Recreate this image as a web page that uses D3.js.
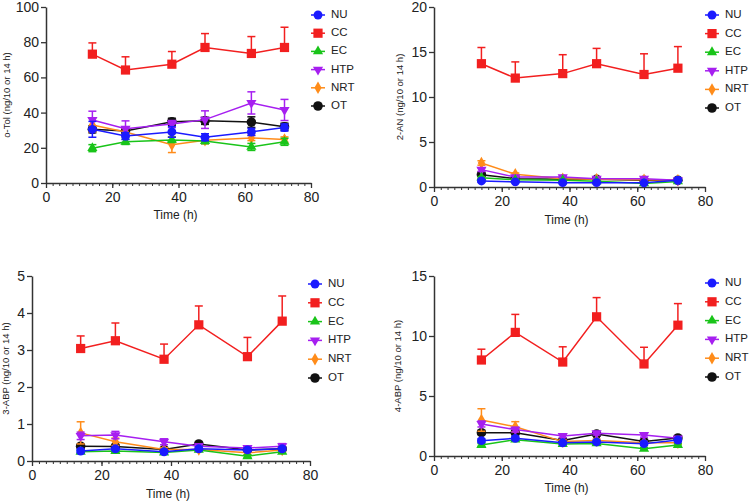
<!DOCTYPE html>
<html>
<head>
<meta charset="utf-8">
<script src="https://cdn.jsdelivr.net/npm/d3@7"></script>
<style>
  body { margin: 0; background: #fff; }
  svg text { font-family: "Liberation Sans", Arial, sans-serif; }
</style>
</head>
<body>
<svg id="main" width="750" height="502"></svg>
<script>

// sampling times (h)
var times  = [14, 24, 38, 48, 62, 72];
var groups = ["NU", "CC", "EC", "HTP", "NRT", "OT"];
var colors = ["#1a1aff", "#f21f1f", "#19c419", "#a61ff0", "#ff8c1a", "#111111"];

// o-Tol (rows follow groups)
var oTolMean = [
  [30.5, 26.7, 29.0, 26.0, 29.0, 31.5],
  [73.2, 64.2, 67.5, 77.0, 73.6, 77.0],
  [19.8, 23.4, 24.5, 23.8, 20.5, 23.4],
  [35.8, 30.8, 33.5, 36.0, 45.5, 41.5],
  [33.0, 29.0, 21.8, 24.3, 25.6, 24.7],
  [30.5, 29.5, 34.8, 35.3, 34.6, 32.0]
];
var oTolErr = [
  [4.5, 2.0, 3.0, 2.0, 2.0, 2.0],
  [6.4, 7.5, 7.2, 7.9, 9.6, 11.5],
  [2.0, 1.5, 1.5, 1.5, 2.0, 2.0],
  [5.0, 4.5, 2.0, 5.0, 6.3, 6.0],
  [4.0, 2.0, 4.5, 2.0, 1.5, 1.5],
  [2.0, 1.5, 2.0, 2.0, 3.0, 2.0]
];

// 2-AN
var anMean = [
  [0.67, 0.57, 0.48, 0.48, 0.46, 0.75],
  [13.7, 12.1, 12.6, 13.7, 12.5, 13.2],
  [1.04, 0.80, 0.75, 0.64, 0.40, 0.62],
  [1.93, 1.10, 1.10, 0.93, 0.93, 0.75],
  [2.67, 1.41, 0.93, 0.85, 0.80, 0.75],
  [1.37, 0.93, 0.85, 0.85, 0.75, 0.75]
];
var anErr = [
  [0.12, 0.10, 0.10, 0.10, 0.10, 0.12],
  [1.8, 1.8, 2.1, 1.7, 2.3, 2.4],
  [0.12, 0.10, 0.10, 0.10, 0.10, 0.10],
  [0.20, 0.15, 0.12, 0.10, 0.12, 0.10],
  [0.25, 0.15, 0.10, 0.10, 0.10, 0.10],
  [0.15, 0.10, 0.10, 0.10, 0.10, 0.10]
];

// 3-ABP
var abp3Mean = [
  [0.27, 0.33, 0.25, 0.33, 0.30, 0.33],
  [3.04, 3.25, 2.75, 3.68, 2.82, 3.78],
  [0.25, 0.27, 0.23, 0.30, 0.13, 0.25],
  [0.68, 0.70, 0.52, 0.40, 0.35, 0.40],
  [0.76, 0.52, 0.31, 0.31, 0.22, 0.30],
  [0.40, 0.39, 0.31, 0.46, 0.30, 0.33]
];
var abp3Err = [
  [0.05, 0.05, 0.05, 0.05, 0.05, 0.05],
  [0.34, 0.48, 0.41, 0.51, 0.52, 0.68],
  [0.04, 0.04, 0.04, 0.04, 0.04, 0.04],
  [0.10, 0.10, 0.08, 0.06, 0.06, 0.07],
  [0.30, 0.10, 0.05, 0.05, 0.05, 0.05],
  [0.05, 0.05, 0.05, 0.05, 0.05, 0.05]
];

// 4-ABP
var abp4Mean = [
  [1.28, 1.47, 1.10, 1.17, 1.03, 1.33],
  [8.0, 10.3, 7.83, 11.6, 7.67, 10.9],
  [0.92, 1.36, 1.00, 1.05, 0.60, 0.92],
  [2.67, 2.20, 1.67, 1.90, 1.75, 1.47],
  [3.00, 2.44, 1.20, 1.30, 1.10, 1.10],
  [1.94, 1.94, 1.30, 1.83, 1.20, 1.50]
];
var abp4Err = [
  [0.15, 0.15, 0.12, 0.12, 0.12, 0.15],
  [0.9, 1.5, 1.27, 1.6, 1.39, 1.8],
  [0.12, 0.12, 0.10, 0.10, 0.12, 0.10],
  [0.25, 0.20, 0.15, 0.15, 0.18, 0.12],
  [0.94, 0.42, 0.15, 0.12, 0.12, 0.12],
  [0.15, 0.15, 0.12, 0.15, 0.12, 0.12]
];

var panels = [
  { label: "o-Tol (ng/10 or 14 h)", mean: oTolMean, err: oTolErr, yMax: 100, yTicks: [0,20,40,60,80,100],
    x0: 46, x1: 311, y0: 183, y1: 7, xLab: 216, yLabX: 7, legX: 318, legY: 15, legDy: 18.2 },
  { label: "2-AN (ng/10 or 14 h)", mean: anMean, err: anErr, yMax: 20, yTicks: [0,5,10,15,20],
    x0: 434, x1: 705, y0: 187, y1: 7, xLab: 221, yLabX: 400, legX: 712, legY: 15, legDy: 18.6 },
  { label: "3-ABP (ng/10 or 14 h)", mean: abp3Mean, err: abp3Err, yMax: 5, yTicks: [0,1,2,3,4,5],
    x0: 32, x1: 310, y0: 461, y1: 276, xLab: 495, yLabX: 6, legX: 315, legY: 284, legDy: 18.8 },
  { label: "4-ABP (ng/10 or 14 h)", mean: abp4Mean, err: abp4Err, yMax: 15, yTicks: [0,5,10,15],
    x0: 434, x1: 705, y0: 456, y1: 276, xLab: 489, yLabX: 398, legX: 712, legY: 283, legDy: 18.8 }
];

var FONT = "Liberation Sans, Arial, sans-serif";

var svg = d3.select("#main");
svg.append("rect").attr("width", 750).attr("height", 502).attr("fill", "#fff");

var symbols = [d3.symbolCircle, d3.symbolSquare, d3.symbolTriangle, d3.symbolTriangle, d3.symbolDiamond, d3.symbolCircle];
var symSize = [62, 85, 45, 45, 45, 72];

function marker(sel, i) {
  sel.append("path")
    .attr("d", d3.symbol().type(symbols[i]).size(symSize[i]))
    .attr("transform", i == 3 ? "rotate(180)" : null)
    .attr("fill", colors[i]);
}

panels.forEach(function(p) {
  var x = d3.scaleLinear().domain([0, 80]).range([p.x0, p.x1]);
  var y = d3.scaleLinear().domain([0, p.yMax]).range([p.y0, p.y1]);
  var g = svg.append("g");

  // x axis: minor every 2, major every 20
  var xa = g.append("g").attr("transform", "translate(0," + p.y0 + ")")
    .call(d3.axisBottom(x).tickValues(d3.range(0, 81, 2)).tickSize(3).tickFormat(""));
  xa.select(".domain").remove();
  xa.selectAll("line").attr("stroke", "#333").attr("stroke-width", 1);
  var xb = g.append("g").attr("transform", "translate(0," + p.y0 + ")")
    .call(d3.axisBottom(x).tickValues([0,20,40,60,80]).tickSize(5).tickSizeOuter(0).tickPadding(4));
  xb.select(".domain").attr("stroke", "#333").attr("stroke-width", 1.5);
  xb.selectAll("line").attr("stroke", "#333").attr("stroke-width", 1.3);
  xb.selectAll("text").attr("font-size", 14).attr("fill", "#222").attr("font-family", FONT);

  var ya = g.append("g").attr("transform", "translate(" + p.x0 + ",0)")
    .call(d3.axisLeft(y).tickValues(p.yTicks).tickFormat(d3.format("d"))
      .tickSize(5).tickSizeOuter(0).tickPadding(2));
  ya.select(".domain").attr("stroke", "#333").attr("stroke-width", 1.5);
  ya.selectAll("line").attr("stroke", "#333").attr("stroke-width", 1.3);
  ya.selectAll("text").attr("font-size", 14).attr("fill", "#222").attr("font-family", FONT);

  g.append("text")
    .attr("x", (p.x0 + p.x1) / 2 - 3).attr("y", p.xLab)
    .attr("text-anchor", "middle").attr("dominant-baseline", "middle")
    .attr("font-family", FONT).attr("font-size", 12).attr("fill", "#222").text("Time (h)");

  g.append("text")
    .attr("transform", "translate(" + p.yLabX + "," + (p.y0 + p.y1) / 2 + ") rotate(-90)")
    .attr("text-anchor", "middle").attr("dominant-baseline", "middle")
    .attr("font-family", FONT).attr("font-size", 9.5).attr("fill", "#222").text(p.label);

  var line = d3.line()
    .x(function(d) { return x(d[0]); })
    .y(function(d) { return y(d[1]); });

  // draw OT first so NU ends on top
  for (var i = groups.length - 1; i >= 0; i--) {
    var pts = times.map(function(t, k) { return [t, p.mean[i][k], p.err[i][k]]; });
    var s = g.append("g");
    s.append("path").datum(pts).attr("d", line)
      .attr("fill", "none").attr("stroke", colors[i]).attr("stroke-width", 1.5);

    var eb = s.selectAll(".eb").data(pts).enter().append("g");
    var upOnly = (i == 1);
    eb.append("line")
      .attr("x1", function(d) { return x(d[0]); })
      .attr("x2", function(d) { return x(d[0]); })
      .attr("y1", function(d) { return upOnly ? y(d[1]) : y(d[1] - d[2]); })
      .attr("y2", function(d) { return y(d[1] + d[2]); })
      .attr("stroke", colors[i]).attr("stroke-width", 1.5);
    eb.append("line")
      .attr("x1", function(d) { return x(d[0]) - 4; })
      .attr("x2", function(d) { return x(d[0]) + 4; })
      .attr("y1", function(d) { return y(d[1] + d[2]); })
      .attr("y2", function(d) { return y(d[1] + d[2]); })
      .attr("stroke", colors[i]).attr("stroke-width", 1.5);
    if (!upOnly) {
      eb.append("line")
        .attr("x1", function(d) { return x(d[0]) - 4; })
        .attr("x2", function(d) { return x(d[0]) + 4; })
        .attr("y1", function(d) { return y(d[1] - d[2]); })
        .attr("y2", function(d) { return y(d[1] - d[2]); })
        .attr("stroke", colors[i]).attr("stroke-width", 1.5);
    }

    var idx = i;
    s.selectAll(".pt").data(pts).enter().append("g")
      .attr("transform", function(d) { return "translate(" + x(d[0]) + "," + y(d[1]) + ")"; })
      .each(function() { marker(d3.select(this), idx); });
  }

  // legend
  groups.forEach(function(name, i) {
    var ly = p.legY + i * p.legDy;
    var lg = g.append("g").attr("transform", "translate(" + p.legX + "," + ly + ")");
    lg.append("line").attr("x1", -7).attr("x2", 7).attr("stroke", colors[i]).attr("stroke-width", 1.5);
    marker(lg, i);
    lg.append("text").attr("x", 13).attr("dominant-baseline", "middle")
      .attr("font-family", FONT).attr("font-size", 11.5).attr("fill", "#222").text(name);
  });
});

</script>
</body>
</html>
